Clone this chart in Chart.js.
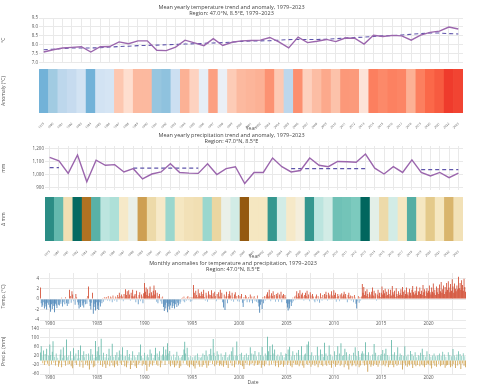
<!DOCTYPE html>
<html>
<head>
<meta charset="utf-8">
<script src="https://cdn.jsdelivr.net/npm/chart.js@4.4.1/dist/chart.umd.min.js"></script>
<style>
  body { margin: 0; background: #fff; width: 480px; height: 387px; overflow: hidden; position: relative; }
  .box { position: absolute; left: 0; width: 480px; }
</style>
</head>
<body>
<div class="box" style="top:0;height:66px"><canvas id="tempLine"></canvas></div>
<div class="box" style="top:66px;height:67px"><canvas id="tempStripes"></canvas></div>
<div class="box" style="top:128px;height:66px"><canvas id="precLine"></canvas></div>
<div class="box" style="top:194px;height:67px"><canvas id="precStripes"></canvas></div>
<div class="box" style="top:256px;height:70px"><canvas id="tempMonthly"></canvas></div>
<div class="box" style="top:325px;height:62px"><canvas id="precMonthly"></canvas></div>
<script>
// jaar-as (1979-2023)
const years = [1979,1980,1981,1982,1983,1984,1985,1986,1987,1988,1989,1990,1991,1992,1993,
    1994,1995,1996,1997,1998,1999,2000,2001,2002,2003,2004,2005,2006,2007,2008,
    2009,2010,2011,2012,2013,2014,2015,2016,2017,2018,2019,2020,2021,2022,2023];
const months = ['01','02','03','04','05','06','07','08','09','10','11','12'];

// jaargemiddelde temperatuur (°C) en trend
const tempYearly = [7.58,7.71,7.81,7.84,7.88,7.58,7.88,7.89,8.15,8.05,8.21,8.21,7.68,7.66,7.86,
    8.25,8.10,7.94,8.33,7.95,8.13,8.21,8.23,8.25,8.40,8.14,7.81,8.42,8.11,8.19,
    8.29,8.17,8.37,8.36,8.03,8.53,8.46,8.52,8.49,8.25,8.53,8.69,8.76,8.99,8.88];
const tempTrend = [7.71,7.74,7.78,7.81,7.81,7.81,7.82,7.86,7.89,7.91,7.94,7.95,7.97,7.99,8.01,
    8.03,8.05,8.07,8.09,8.11,8.14,8.18,8.21,8.21,8.22,8.25,8.28,8.29,8.29,8.29,
    8.30,8.33,8.37,8.40,8.42,8.46,8.49,8.51,8.54,8.58,8.62,8.65,8.65,8.62,8.60];
const tempBaseline = 7.98;

// jaarsom neerslag (mm) en trend (alleen waar getekend)
const precYearly = [1133,1106,1010,1151,945,1111,1072,1077,1021,1046,967,1005,1021,1084,1017,
    1012,1010,1084,1001,1046,1061,932,1017,1017,1128,1061,1021,1032,1128,1072,
    1061,1101,1099,1095,1158,1050,1005,1061,1017,1113,1017,990,1017,977,1012];
const precTrend = [1054,1054,null,null,null,null,null,null,null,1050,1050,1050,1050,1050,1050,
    1050,1050,null,null,null,null,null,null,null,null,null,1046,1046,1046,1046,
    1046,1046,1046,1046,1046,null,null,null,null,null,1039,1039,1039,1039,1039];

// maandelijkse anomalieën temperatuur (°C)
const tempMonthly = [
    2.2,-0.8,-1.5,-1.2,-0.6,-1.8,-0.9,-1.4,-2.0,-0.7,-1.1,-0.5,
    -1.6,-2.4,-1.0,-1.9,-0.8,-1.3,-2.5,-0.9,-1.2,-1.7,-0.4,-1.1,
    -1.2,-0.5,-0.9,0.3,-1.4,-0.6,-0.2,-1.0,0.4,-0.8,-1.3,-0.3,
    -0.9,1.8,0.6,-0.7,1.5,0.9,-0.4,0.2,-1.1,1.0,0.4,-0.6,
    -1.1,-1.8,-0.7,-1.5,-0.3,-1.2,-0.8,-1.6,-0.5,-1.0,0.2,-0.9,
    0.6,2.4,-0.5,-1.3,-2.0,-0.7,1.2,-2.8,-1.5,-0.9,-2.2,-0.6,
    -1.9,-1.2,-2.1,-0.6,-1.4,-0.3,-0.8,0.2,-0.5,0.4,-0.2,0.3,
    0.4,-0.3,0.6,0.2,-0.4,0.5,0.3,-0.6,0.7,0.2,-0.3,0.5,
    0.3,-0.5,0.8,0.4,1.2,0.6,-0.2,0.9,0.5,-0.4,1.0,0.3,
    1.9,0.8,1.5,0.4,1.7,0.9,-0.3,1.2,0.6,1.8,0.5,0.7,
    1.0,-0.6,1.6,0.3,-1.0,0.8,1.3,-0.4,0.9,0.5,-0.8,1.1,
    3.1,1.4,2.2,0.8,1.9,0.6,1.1,2.4,0.5,1.3,0.7,1.6,
    2.6,0.9,1.7,-0.5,1.2,-0.8,0.6,1.0,-0.4,0.3,-0.9,0.5,
    -1.5,-2.3,-1.1,-1.8,-0.7,-2.5,-1.4,-0.9,-2.0,-1.2,-0.6,-1.7,
    -1.3,-0.8,-1.8,-1.0,-0.4,-1.5,-0.7,-1.2,-0.3,-0.9,-0.5,0.2,
    0.3,-0.4,0.5,-0.6,0.2,-0.3,0.4,0.6,-0.2,0.3,-0.5,0.4,
    -0.4,0.3,2.7,1.2,0.5,1.6,0.8,0.4,1.9,0.7,1.1,0.6,
    1.4,0.6,1.0,1.8,0.4,-0.3,1.2,0.7,-0.5,1.5,0.9,0.3,
    0.8,1.7,0.5,1.1,0.3,1.4,0.6,-0.4,1.0,0.2,1.3,0.5,
    1.8,0.4,1.2,-0.6,-1.6,0.9,-2.1,0.5,1.4,-0.8,0.6,1.0,
    1.5,0.7,-0.3,1.2,0.4,-0.5,0.9,1.3,0.2,0.6,-0.4,0.8,
    -0.5,0.6,0.3,1.0,-0.7,-1.5,0.4,-0.3,0.8,0.5,-0.6,0.2,
    0.4,-0.6,0.9,-0.3,0.5,-0.8,0.3,0.6,-0.4,0.2,-0.5,0.7,
    -0.7,-1.4,-2.6,-1.1,-0.5,-1.9,0.4,-0.8,0.6,-0.3,0.5,0.9,
    1.3,0.5,1.8,0.7,-0.4,1.1,0.6,1.5,0.3,0.8,-0.5,1.0,
    0.6,1.2,-0.5,0.9,0.3,1.4,-0.6,0.7,1.0,0.2,0.8,0.4,
    -0.8,-1.6,-2.2,-0.9,-1.8,-0.5,-1.3,-0.7,0.3,-0.4,0.5,-0.2,
    0.7,1.5,0.4,1.1,0.6,1.7,0.3,0.9,1.2,0.5,-0.3,0.8,
    1.2,0.6,1.6,0.4,0.9,-0.4,1.3,0.7,0.2,1.0,0.5,-0.3,
    -0.6,0.5,0.9,-0.4,0.6,0.3,-0.7,1.1,0.4,-0.3,0.8,0.2,
    1.0,0.4,1.4,0.8,-0.3,1.2,0.6,0.9,0.3,1.5,0.7,0.4,
    1.7,0.8,1.2,-0.5,0.4,1.0,0.6,-0.4,0.9,0.3,1.1,0.5,
    0.9,1.4,0.5,1.0,0.3,-0.6,0.8,1.2,0.4,0.7,-0.3,0.6,
    0.5,-0.6,0.8,0.3,-0.9,-1.8,-0.4,0.6,-0.7,0.4,-0.3,0.5,
    2.9,1.2,2.3,0.8,1.5,0.6,1.9,1.0,0.4,1.3,0.9,0.5,
    1.4,2.2,0.7,1.6,0.5,1.1,-0.3,0.9,1.8,0.6,1.2,0.4,
    1.2,2.4,0.9,1.7,1.1,2.0,0.6,1.4,0.8,1.9,1.0,0.5,
    1.8,0.7,2.5,1.3,0.9,1.6,0.4,2.1,1.0,0.6,1.5,0.8,
    1.1,1.9,0.8,2.3,1.4,0.6,1.7,1.0,2.2,0.9,1.3,0.7,
    2.0,1.2,0.7,1.8,2.5,1.3,0.9,1.6,1.1,2.4,0.8,1.5,
    1.4,2.2,1.0,1.6,0.8,2.7,1.3,1.9,0.6,1.5,2.1,1.2,
    1.6,2.6,1.3,0.9,2.2,1.4,3.0,1.1,1.8,0.8,2.4,1.3,
    2.1,1.0,2.8,1.5,3.3,1.2,1.9,2.6,1.0,2.3,1.4,3.1,
    1.8,3.4,2.2,1.3,2.9,1.6,3.8,2.4,1.2,3.0,2.0,1.5,
    2.6,1.9,4.3,2.1,3.1,1.8,3.6,2.7,1.6,3.9,2.3,1.4
];

// maandelijkse anomalieën neerslag (mm)
const precMonthly = [
    35,62,18,-12,44,-20,28,-8,51,-15,22,-25,
    70,24,-18,38,85,-10,16,-22,30,-6,12,-28,
    -14,26,48,-30,12,58,-9,20,-24,92,14,-18,
    22,-16,40,-26,10,-35,54,18,-12,30,-20,8,
    46,12,-28,66,-8,24,-32,40,14,-18,28,-10,
    -22,30,-40,18,50,-14,26,-30,12,-26,86,16,
    40,-12,60,24,-20,96,18,-28,34,-16,14,-34,
    28,-18,12,52,-26,20,-10,74,-22,16,-30,24,
    -16,36,-24,14,44,-12,26,-20,58,-8,18,-26,
    20,-30,46,-14,16,28,-38,12,-20,40,-10,22,
    -26,14,-34,24,-18,36,-12,70,20,-24,12,-16,
    34,-20,18,-46,26,14,-28,48,-16,30,-22,12,
    -12,24,56,-18,30,-24,16,40,-30,20,-14,26,
    60,18,-20,48,22,76,30,-16,42,-26,18,-12,
    -18,26,-30,14,-22,38,-14,20,-34,12,-26,16,
    24,-14,48,82,30,-18,56,-24,14,-30,20,-16,
    -20,14,-26,18,-36,22,-12,30,-18,16,-28,12,
    16,-28,30,-20,24,-14,44,-32,18,-22,28,-10,
    52,22,-16,94,34,-26,20,-18,40,-12,26,-24,
    -16,30,-22,16,-28,24,-14,36,-20,14,-34,18,
    26,-12,40,-24,58,18,-30,22,-16,84,20,-18,
    -14,28,-20,34,-26,16,-38,24,-12,30,-18,14,
    24,-22,58,-16,30,-12,26,-24,42,-14,18,-20,
    -18,36,-14,24,-32,60,-20,18,-26,30,-16,22,
    104,40,-22,62,24,-18,70,30,-14,48,-26,20,
    -12,26,-30,18,-20,36,-16,22,-28,14,-18,30,
    28,-20,48,-14,60,-24,18,-30,40,-12,24,-16,
    -20,34,-18,46,-26,22,-14,62,-22,18,-32,26,
    30,-16,70,-20,84,-12,24,-28,36,-18,20,-14,
    -24,22,-16,60,-30,20,-14,48,-20,28,-26,16,
    78,-18,30,-24,20,-14,66,-20,26,-32,18,-12,
    -16,40,-28,24,-20,62,-14,30,-24,76,-18,20,
    24,-30,52,-16,36,-22,18,-40,28,-14,22,-26,
    -20,34,-14,58,-26,20,-18,42,-30,16,-22,30,
    40,-14,30,-22,80,-18,24,-50,36,-16,20,-28,
    -18,26,-24,72,-16,34,-20,18,-28,24,-14,22,
    28,-22,46,-18,30,-26,52,-14,24,-30,18,-20,
    -14,90,-20,26,-30,36,-16,22,-24,58,-18,16,
    30,-18,24,-40,20,-14,62,-22,18,-28,26,-16,
    -22,42,-16,28,-34,20,-18,36,-26,14,-20,24,
    20,-26,34,-18,52,-22,24,-30,16,-20,40,-14,
    -18,28,-22,16,-36,22,-14,30,-24,18,-28,20,
    24,-16,30,-26,20,-20,38,-18,26,-32,16,-22,
    -20,36,-18,24,-30,18,-26,50,-16,22,-34,14,
    26,-22,40,-16,28,-38,20,-14,32,-24,18,-30
];

const monthLabels = years.flatMap(y => months.map(m => y + '-' + m));

// kleurschalen
const tempStops = [[-0.42,'#6baed6'],[-0.28,'#9ecae1'],[-0.14,'#c6dbef'],[-0.06,'#deebf7'],[0,'#f7f4f4'],
    [0.06,'#fee0d2'],[0.22,'#fcbba1'],[0.42,'#fc9272'],[0.7,'#fb6a4a'],[0.95,'#ef3b2c']];
const precStops = [[-120,'#8c510a'],[-95,'#bf812d'],[-65,'#dfc27d'],[-30,'#f6e8c3'],[-8,'#f3f1ea'],
    [20,'#c7eae5'],[45,'#80cdc1'],[80,'#35978f'],[105,'#01665e']];
const tempBarStops = [[-2.0,'#2f6fa8'],[-0.8,'#4f8cc0'],[-0.2,'#a7cbe4'],[0,'#f4c4b5'],[0.5,'#e0694c'],[1.0,'#cc3517']];
const precBarStops = [[-40,'#c08a2c'],[-15,'#d3a54c'],[0,'#ead39d'],[0.01,'#b3e0d6'],[25,'#7cc6b7'],[50,'#4fae9c']];

function hexToRgb(h) {
    return [parseInt(h.slice(1, 3), 16), parseInt(h.slice(3, 5), 16), parseInt(h.slice(5, 7), 16)];
}
function ramp(stops, v) {
    if (v <= stops[0][0]) return stops[0][1];
    for (let i = 1; i < stops.length; i++) {
        if (v <= stops[i][0]) {
            const t = (v - stops[i - 1][0]) / (stops[i][0] - stops[i - 1][0]);
            const a = hexToRgb(stops[i - 1][1]), b = hexToRgb(stops[i][1]);
            return 'rgb(' + a.map((x, k) => Math.round(x + (b[k] - x) * t)).join(',') + ')';
        }
    }
    return stops[stops.length - 1][1];
}

Chart.defaults.font.family = "'Open Sans', 'DejaVu Sans', sans-serif";
Chart.defaults.color = '#555';
Chart.defaults.animation = false;
Chart.defaults.maintainAspectRatio = false;
Chart.defaults.plugins.legend.display = false;
Chart.defaults.plugins.tooltip.enabled = false;

const GRID = '#e9e9e9';
const fixWidth = w => scale => { scale.width = w; };
const fixHeight = h => scale => { scale.height = h; };
const tinyTicks = { font: { size: 4.5 }, padding: 1 };
const yearTicks = { font: { size: 3.0 }, padding: 1, autoSkip: false, maxRotation: 45, minRotation: 45 };
const axisTitle = text => ({ display: true, text: text, font: { size: 5 }, padding: { top: 1, bottom: 1 } });
const chartTitle = lines => ({
    display: true, text: lines, color: '#444',
    font: { size: 5.5, weight: 'normal', lineHeight: 1.0 }, padding: { top: 5, bottom: 2 }
});

// paneel 1: lijn temperatuur
new Chart(document.getElementById('tempLine'), {
    type: 'line',
    data: {
        labels: years,
        datasets: [
            { data: tempYearly, borderColor: '#9b66ad', borderWidth: 1.4, pointRadius: 0, tension: 0 },
            { data: tempTrend, borderColor: '#5f54ab', borderWidth: 1.1, borderDash: [4, 3], pointRadius: 0 }
        ]
    },
    options: {
        layout: { padding: { right: 17, bottom: 3 } },
        plugins: { title: chartTitle(['Mean yearly temperature trend and anomaly, 1979–2023', 'Region: 47.0°N, 8.5°E, 1979–2023']) },
        scales: {
            x: { offset: true, ticks: { display: false }, grid: { color: GRID, drawTicks: false }, border: { display: false } },
            y: { min: 7, max: 9.5, ticks: { ...tinyTicks, stepSize: 0.5 }, grid: { color: GRID, drawTicks: false },
                 border: { display: false }, title: axisTitle('°C'), afterFit: fixWidth(39) }
        }
    }
});

// paneel 1: streepjes temperatuur
new Chart(document.getElementById('tempStripes'), {
    type: 'bar',
    data: {
        labels: years,
        datasets: [{
            data: years.map(() => 1),
            backgroundColor: tempYearly.map(v => ramp(tempStops, v - tempBaseline)),
            barPercentage: 1, categoryPercentage: 1, borderWidth: 0
        }]
    },
    options: {
        layout: { padding: { right: 17, top: 3 } },
        scales: {
            x: { ticks: yearTicks, grid: { display: false }, border: { display: false },
                 title: axisTitle('Year'), afterFit: fixHeight(20) },
            y: { min: 0, max: 1, ticks: { display: false }, grid: { display: false }, border: { display: false },
                 title: axisTitle('Anomaly (°C)'), afterFit: fixWidth(39) }
        }
    }
});

// paneel 2: lijn neerslag
const precMean = precYearly.reduce((s, v) => s + v, 0) / precYearly.length;
new Chart(document.getElementById('precLine'), {
    type: 'line',
    data: {
        labels: years,
        datasets: [
            { data: precYearly, borderColor: '#9b66ad', borderWidth: 1.4, pointRadius: 0 },
            { data: precTrend, borderColor: '#5f54ab', borderWidth: 1.2, borderDash: [4, 3], pointRadius: 0, spanGaps: false }
        ]
    },
    options: {
        layout: { padding: { right: 17, bottom: 0 } },
        plugins: { title: chartTitle(['Mean yearly precipitation trend and anomaly, 1979–2023', 'Region: 47.0°N, 8.5°E']) },
        scales: {
            x: { offset: true, ticks: { display: false }, grid: { color: GRID, drawTicks: false }, border: { display: false } },
            y: { min: 880, max: 1220, ticks: { ...tinyTicks, stepSize: 100, includeBounds: false }, grid: { color: GRID, drawTicks: false },
                 border: { display: false }, title: axisTitle('mm'), afterFit: fixWidth(45) }
        }
    }
});

// paneel 2: streepjes neerslag
new Chart(document.getElementById('precStripes'), {
    type: 'bar',
    data: {
        labels: years,
        datasets: [{
            data: years.map(() => 1),
            backgroundColor: precYearly.map(v => ramp(precStops, v - precMean)),
            barPercentage: 1, categoryPercentage: 1, borderWidth: 0
        }]
    },
    options: {
        layout: { padding: { right: 17, top: 3 } },
        scales: {
            x: { ticks: yearTicks, grid: { display: false }, border: { display: false },
                 title: axisTitle('Year'), afterFit: fixHeight(20) },
            y: { min: 0, max: 1, ticks: { display: false }, grid: { display: false }, border: { display: false },
                 title: axisTitle('Δ mm'), afterFit: fixWidth(45) }
        }
    }
});

// x-as voor maandreeksen: label elke 5 jaar, rasterlijn elke 2,5 jaar
function monthTick(value, index) {
    const y = years[0] + Math.floor(index / 12), m = index % 12;
    if (m === 0 && y % 5 === 0) return String(y);
    if (m === 6 && y % 5 === 2) return '';
    return null;
}
const monthAxis = (h, extra) => Object.assign({
    ticks: { ...tinyTicks, autoSkip: false, maxRotation: 0, callback: monthTick },
    grid: { color: GRID, drawTicks: false, offset: false }, border: { display: false },
    afterFit: fixHeight(h)
}, extra);

// paneel 3: maandelijkse temperatuuranomalie
new Chart(document.getElementById('tempMonthly'), {
    type: 'bar',
    data: {
        labels: monthLabels,
        datasets: [{
            data: tempMonthly,
            backgroundColor: ctx => ramp(tempBarStops, ctx.raw),
            barPercentage: 0.95, categoryPercentage: 1, borderWidth: 0
        }]
    },
    options: {
        layout: { padding: { right: 14 } },
        plugins: { title: Object.assign(chartTitle(['Monthly anomalies for temperature and precipitation, 1979–2023', 'Region: 47.0°N, 8.5°E']), { padding: { top: 5, bottom: 1 } }) },
        scales: {
            x: monthAxis(6, {}),
            y: { min: -4, max: 5, ticks: { ...tinyTicks, stepSize: 1 }, grid: { color: GRID, drawTicks: false },
                 border: { display: false }, title: axisTitle('Temp. (°C)'), afterFit: fixWidth(40) }
        }
    }
});

// paneel 4: maandelijkse neerslaganomalie
new Chart(document.getElementById('precMonthly'), {
    type: 'bar',
    data: {
        labels: monthLabels,
        datasets: [{
            data: precMonthly,
            backgroundColor: ctx => ramp(precBarStops, ctx.raw),
            barPercentage: 0.95, categoryPercentage: 1, borderWidth: 0
        }]
    },
    options: {
        layout: { padding: { right: 14, top: 2 } },
        scales: {
            x: monthAxis(13, { title: axisTitle('Date') }),
            y: { min: -60, max: 140, ticks: { ...tinyTicks, stepSize: 20 }, grid: { color: GRID, drawTicks: false },
                 border: { display: false }, title: axisTitle('Precip. (mm)'), afterFit: fixWidth(40) }
        }
    }
});
</script>
</body>
</html>
